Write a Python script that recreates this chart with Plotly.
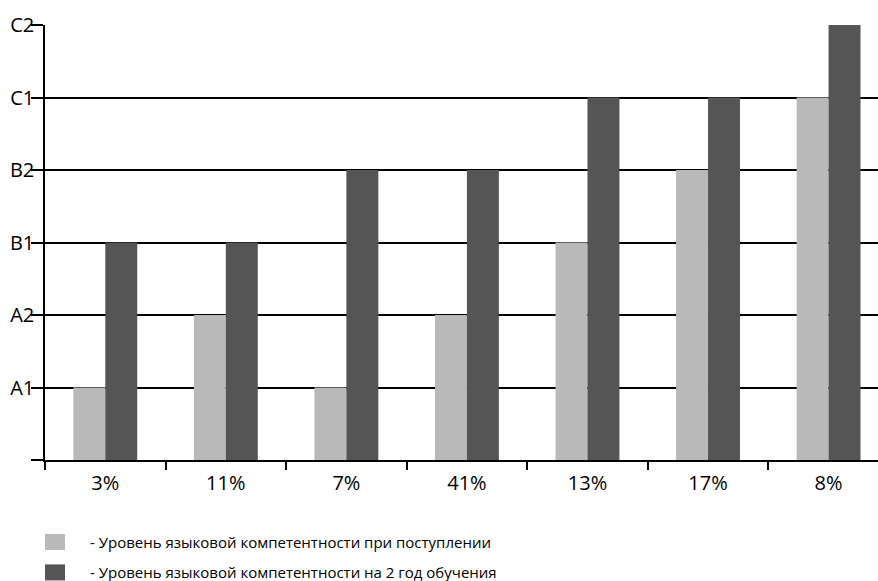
import plotly.graph_objects as go

categories = ["3%", "11%", "7%", "41%", "13%", "17%", "8%"]
entry_level = [1, 2, 1, 2, 3, 4, 5]
second_year_level = [3, 3, 4, 4, 5, 5, 6]
level_values = [0, 1, 2, 3, 4, 5, 6]
level_labels = ["", "A1", "A2", "B1", "B2", "C1", "C2"]
legend_names = [
    "- Уровень языковой компетентности при поступлении",
    "- Уровень языковой компетентности на 2 год обучения",
]
light = "#b8b9b8"
dark = "#555555"
font_family = "Open Sans, Noto Sans, sans-serif"

fig = go.Figure()
fig.add_trace(go.Bar(x=categories, y=entry_level, marker_color=light, marker_line_width=0,
                     name=legend_names[0], showlegend=False))
fig.add_trace(go.Bar(x=categories, y=second_year_level, marker_color=dark, marker_line_width=0,
                     name=legend_names[1], showlegend=False))

fig.update_layout(
    width=878, height=581,
    margin=dict(l=45, r=0, t=25, b=121),
    paper_bgcolor="white", plot_bgcolor="white",
    barmode="group", bargap=0.47, bargroupgap=0,
    font=dict(family=font_family, color="#000000"),
)
fig.update_xaxes(
    range=[-0.5, 6.41], showline=True, linecolor="black", linewidth=1.5,
    ticks="outside", tickson="boundaries", ticklen=8, tickcolor="black", tickwidth=1.5,
    ticklabelstandoff=4,
    tickfont=dict(size=20, family=font_family, color="#000000"), showgrid=False,
)
fig.update_yaxes(
    range=[0, 6], tickvals=level_values, ticktext=level_labels,
    showline=True, linecolor="black", linewidth=1.5,
    showgrid=True, gridcolor="black", gridwidth=1.5, zeroline=False,
    ticks="outside", ticklen=12, tickcolor="black", tickwidth=1.5,
    ticklabelstandoff=-7,
    tickfont=dict(size=20, family=font_family, color="#000000"),
)

# custom legend
legend_colors = [light, dark]
legend_tops = [-0.170, -0.240]
for nm, col, y0 in zip(legend_names, legend_colors, legend_tops):
    fig.add_shape(type="rect", xref="paper", yref="paper",
                  x0=0.0, x1=0.0 + 20 / 833, y0=y0 - 16 / 435, y1=y0,
                  fillcolor=col, line_width=0)
    fig.add_annotation(text=nm, xref="paper", yref="paper", x=(88 - 45) / 833,
                       y=y0 - 8 / 435, xanchor="left", yanchor="middle", showarrow=False,
                       font=dict(size=15, family=font_family, color="#000000"))

fig.write_html("out.html")
